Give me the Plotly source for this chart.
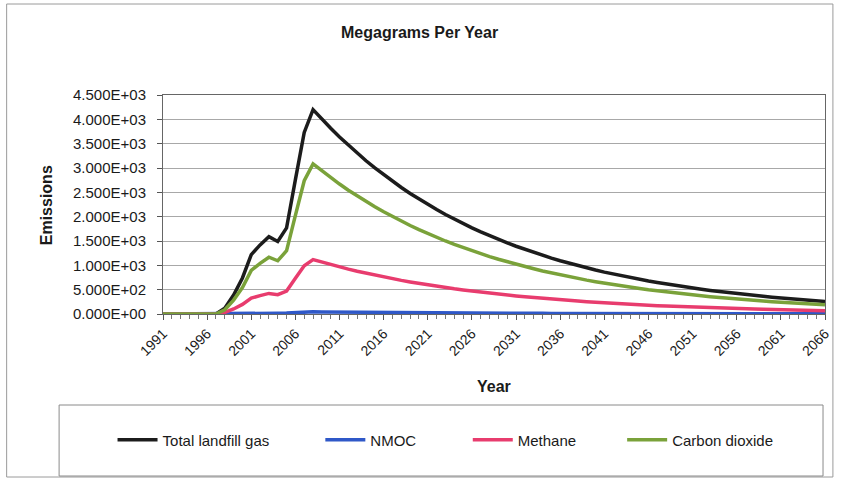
import plotly.graph_objects as go

# Landfill gas generation, megagrams per year
years = list(range(1991, 2067))

total_landfill_gas = [
    0, 0, 0, 0, 0, 0, 0, 120, 390, 740, 1220, 1420, 1590, 1490, 1770, 2760, 3730, 4200,
    4003, 3816, 3637, 3466, 3304, 3149, 3001, 2861, 2727, 2599, 2477, 2361, 2250, 2145,
    2044, 1948, 1857, 1770, 1687, 1608, 1533, 1461, 1392, 1327, 1265, 1205, 1149, 1095,
    1044, 995, 948, 904, 861, 821, 782, 746, 711, 677, 646, 615, 586, 559, 533, 508,
    484, 461, 440, 419, 399, 381, 363, 346, 330, 314, 299, 285, 272, 259,
]

nmoc = [
    0, 0, 0, 0, 0, 0, 0, 1, 4, 8, 13, 15, 17, 16, 19, 29, 40, 45,
    42, 40, 39, 37, 35, 33, 32, 30, 29, 28, 26, 25, 24, 23,
    22, 21, 20, 19, 18, 17, 16, 15, 15, 14, 13, 13, 12, 12,
    11, 11, 10, 10, 9, 9, 8, 8, 8, 7, 7, 7, 6, 6, 6, 5,
    5, 5, 5, 4, 4, 4, 4, 4, 3, 3, 3, 3, 3, 3,
]

methane = [
    0, 0, 0, 0, 0, 0, 0, 32, 104, 197, 325, 378, 423, 396, 471, 734, 992, 1117,
    1065, 1015, 967, 922, 879, 838, 798, 761, 725, 691, 659, 628, 599, 571,
    544, 518, 494, 471, 449, 428, 408, 389, 370, 353, 336, 321, 306, 291,
    278, 265, 252, 240, 229, 218, 208, 198, 189, 180, 172, 164, 156, 149, 142, 135,
    129, 123, 117, 111, 106, 101, 97, 92, 88, 84, 80, 76, 72, 69,
]

carbon_dioxide = [
    0, 0, 0, 0, 0, 0, 0, 88, 286, 543, 895, 1042, 1167, 1094, 1299, 2026, 2738, 3083,
    2938, 2801, 2670, 2544, 2425, 2311, 2203, 2100, 2002, 1908, 1818, 1733, 1651, 1574,
    1500, 1430, 1363, 1299, 1238, 1180, 1125, 1072, 1022, 974, 929, 884, 843, 804,
    766, 730, 696, 664, 632, 603, 574, 548, 522, 497, 474, 451, 430, 410, 391, 373,
    355, 338, 323, 308, 293, 280, 266, 254, 242, 230, 219, 209, 200, 190,
]

series_names = ["Total landfill gas", "NMOC", "Methane", "Carbon dioxide"]
series_values = [total_landfill_gas, nmoc, methane, carbon_dioxide]
series_colors = ["#1c1c1c", "#2f58c8", "#e83c6e", "#7aa23a"]

x_tick_years = list(range(1991, 2067, 5))
y_tick_values = list(range(0, 4501, 500))
y_tick_labels = ["%.3fE+%02d" % (v / 10 ** (len(str(v)) - 1), len(str(v)) - 1) if v else "0.000E+00"
                 for v in y_tick_values]

FONT = "Liberation Sans, Arial, sans-serif"

W, H = 843, 481
L, R, T, B = 163, 832, 95, 314
pw, ph = R - L, B - T


def px_x(px):
    return (px - L) / pw


def px_y(py):
    return (B - py) / ph


# each legend entry sits in its own legend box so it can be spaced freely
legend_keys = ["legend", "legend2", "legend3", "legend4"]
legend_left_px = [112, 322, 471, 627]

fig = go.Figure()
for name, vals, col, lg in zip(series_names, series_values, series_colors, legend_keys):
    fig.add_trace(go.Scatter(
        x=years, y=vals, name=name, mode="lines",
        line=dict(color=col, width=3.5), cliponaxis=False, legend=lg,
    ))

legend_layout = {}
for lg, lx in zip(legend_keys, legend_left_px):
    legend_layout[lg] = dict(
        orientation="h", x=px_x(lx), y=px_y(440), xanchor="left", yanchor="middle",
        font=dict(size=15, family=FONT, color="#1a1a1a"), bgcolor="rgba(0,0,0,0)",
        itemwidth=40,
    )

fig.update_layout(
    width=W, height=H,
    margin=dict(l=L, r=W - R, t=T, b=H - B),
    paper_bgcolor="white", plot_bgcolor="white",
    font=dict(family=FONT, size=13, color="#1a1a1a"),
    showlegend=True,
    **legend_layout,
    annotations=[
        dict(text="<b>Megagrams Per Year</b>", xref="paper", yref="paper",
             x=px_x(422), y=px_y(33), xanchor="center", yanchor="middle",
             showarrow=False, font=dict(size=16, family=FONT)),
        dict(text="<b>Emissions</b>", xref="paper", yref="paper",
             x=px_x(45), y=px_y(205), xanchor="center", yanchor="middle",
             showarrow=False, textangle=-90, font=dict(size=16, family=FONT)),
        dict(text="<b>Year</b>", xref="paper", yref="paper",
             x=px_x(497), y=px_y(386), xanchor="center", yanchor="middle",
             showarrow=False, font=dict(size=16, family=FONT)),
    ],
    shapes=[
        # outer chart frame
        dict(type="rect", xref="paper", yref="paper",
             x0=px_x(5), x1=px_x(840), y0=px_y(477), y1=px_y(4),
             line=dict(color="#9a9a9a", width=1), layer="below"),
        # legend frame
        dict(type="rect", xref="paper", yref="paper",
             x0=px_x(58), x1=px_x(830), y0=px_y(476), y1=px_y(405),
             line=dict(color="#8a8a8a", width=1), layer="below"),
    ],
)

fig.update_xaxes(
    range=[1991, 2066], tickmode="array", tickvals=x_tick_years,
    ticktext=[str(y) for y in x_tick_years], tickangle=-45,
    ticks="outside", ticklen=5, tickcolor="#555",
    minor=dict(dtick=1, tick0=1991, ticks="outside", ticklen=4, tickcolor="#777", showgrid=False),
    showline=True, linecolor="#666", linewidth=1, mirror=True,
    showgrid=False, zeroline=False, ticklabeloverflow="allow",
    tickfont=dict(size=14, family=FONT),
)
fig.update_yaxes(
    range=[0, 4500], tickmode="array", tickvals=y_tick_values, ticktext=y_tick_labels,
    ticks="outside", ticklen=5, tickcolor="#555",
    showline=True, linecolor="#666", linewidth=1, mirror=True,
    showgrid=True, gridcolor="#a8a8a8", gridwidth=1, zeroline=False,
    tickfont=dict(size=15, family=FONT), ticklabelstandoff=8,
)

fig.write_html("out.html")
